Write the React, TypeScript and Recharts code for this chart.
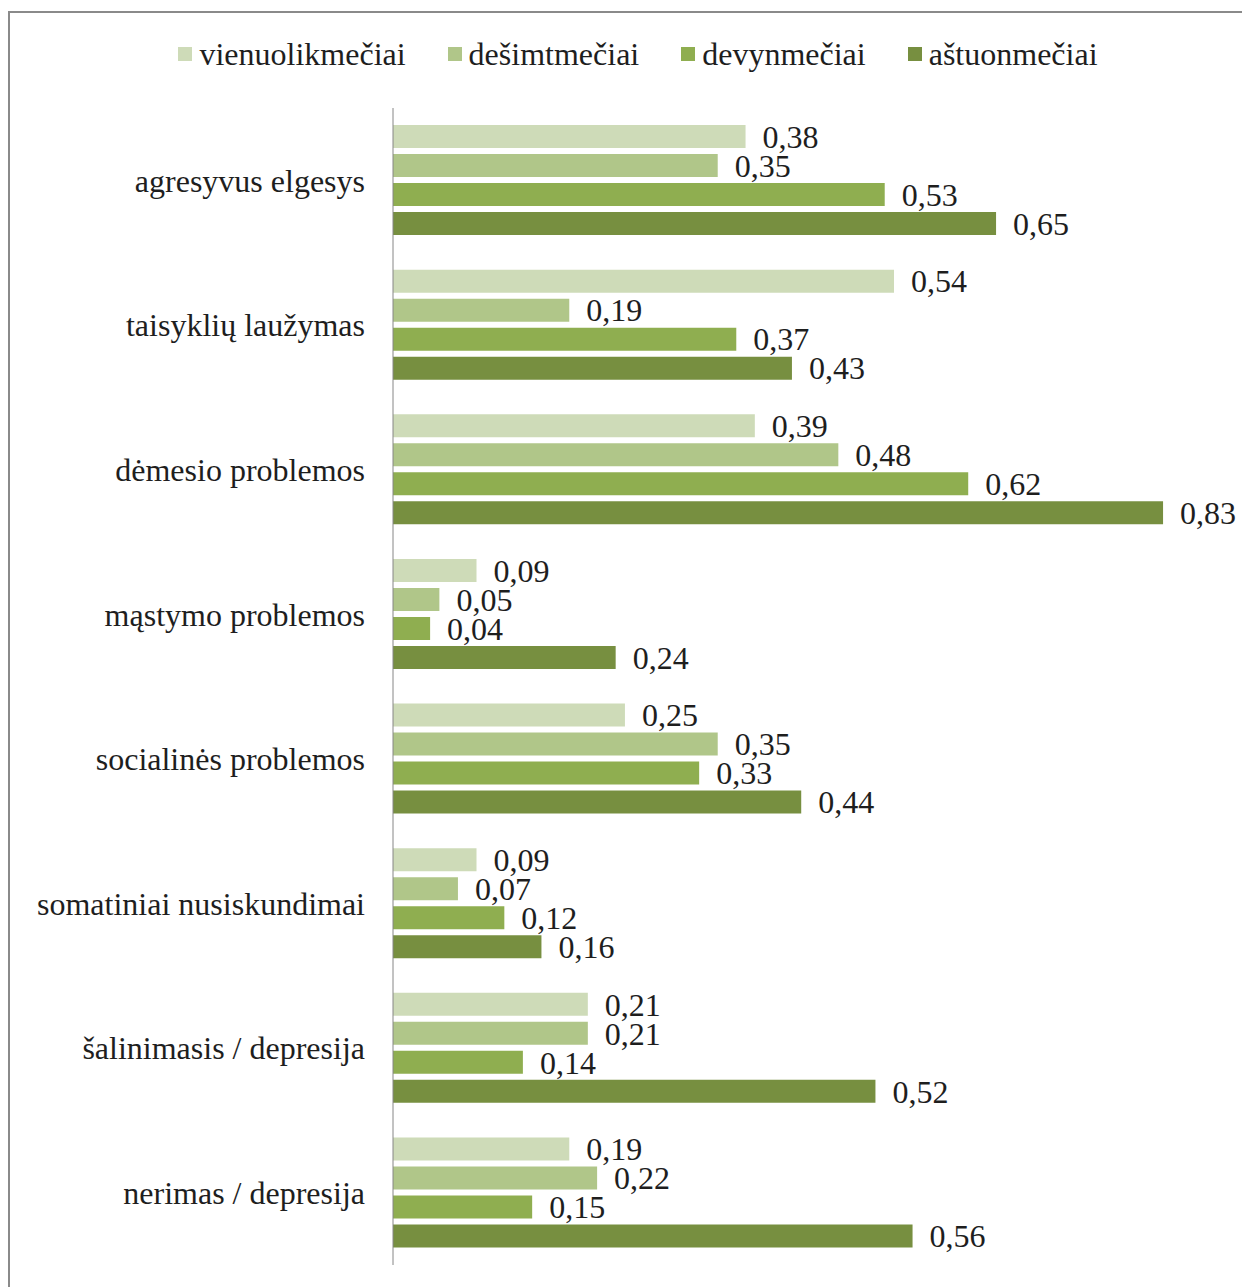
import React from "react";
import { Bar, BarChart, LabelList, Legend, XAxis, YAxis } from "recharts";

const categories = [
  "agresyvus elgesys",
  "taisyklių laužymas",
  "dėmesio problemos",
  "mąstymo problemos",
  "socialinės problemos",
  "somatiniai nusiskundimai",
  "šalinimasis / depresija",
  "nerimas / depresija",
];

const vienuolikmeciai = [0.38, 0.54, 0.39, 0.09, 0.25, 0.09, 0.21, 0.19];
const desimtmeciai = [0.35, 0.19, 0.48, 0.05, 0.35, 0.07, 0.21, 0.22];
const devynmeciai = [0.53, 0.37, 0.62, 0.04, 0.33, 0.12, 0.14, 0.15];
const astuonmeciai = [0.65, 0.43, 0.83, 0.24, 0.44, 0.16, 0.52, 0.56];

const series = [
  { key: "vienuolikmeciai", name: "vienuolikmečiai", color: "#cedbb8" },
  { key: "desimtmeciai", name: "dešimtmečiai", color: "#b0c689" },
  { key: "devynmeciai", name: "devynmečiai", color: "#8fae50" },
  { key: "astuonmeciai", name: "aštuonmečiai", color: "#778f40" },
];

const data = categories.map((name, i) => ({
  name,
  vienuolikmeciai: vienuolikmeciai[i],
  desimtmeciai: desimtmeciai[i],
  devynmeciai: devynmeciai[i],
  astuonmeciai: astuonmeciai[i],
}));

const FONT = "'Liberation Serif', 'Times New Roman', serif";
const fmt = (v: any) => String(v).replace(".", ",");

function LegendRow() {
  return (
    <div style={{ display: "flex", justifyContent: "center", gap: 42, fontFamily: FONT, fontSize: 32, lineHeight: "34px", color: "#1e1e1e" }}>
      {series.map((s) => (
        <div key={s.key} style={{ display: "flex", alignItems: "center" }}>
          <span style={{ width: 14, height: 14, background: s.color, marginRight: 7, display: "inline-block" }} />
          <span>{s.name}</span>
        </div>
      ))}
    </div>
  );
}

export default function App() {
  return (
    <div
      style={{
        marginTop: 3,
        width: 1242,
        height: 1276,
        borderTop: "2px solid #8a8a8a",
        borderLeft: "2px solid #8a8a8a",
        background: "#fff",
      }}
    >
      <BarChart
        width={1240}
        height={1274}
        data={data}
        layout="vertical"
        barSize={23}
        barGap={6}
        margin={{ top: 61, right: 22, bottom: 22, left: 0 }}
      >
        <XAxis type="number" domain={[0, 0.9]} hide />
        <YAxis
          type="category"
          dataKey="name"
          width={383}
          tickLine={false}
          tickSize={0}
          tickMargin={28}
          axisLine={{ stroke: "#868686" }}
          tick={{ fontFamily: FONT, fontSize: 32, fill: "#1e1e1e" }}
        />
        <Legend
          verticalAlign="top"
          content={() => <LegendRow />}
          wrapperStyle={{ top: 24, left: 0, width: 1256 }}
        />
        {series.map((s) => (
          <Bar key={s.key} dataKey={s.key} name={s.name} fill={s.color} isAnimationActive={false}>
            <LabelList
              dataKey={s.key}
              position="right"
              offset={17}
              formatter={fmt}
              style={{ fontFamily: FONT, fontSize: 32, fill: "#1e1e1e" }}
            />
          </Bar>
        ))}
      </BarChart>
    </div>
  );
}
